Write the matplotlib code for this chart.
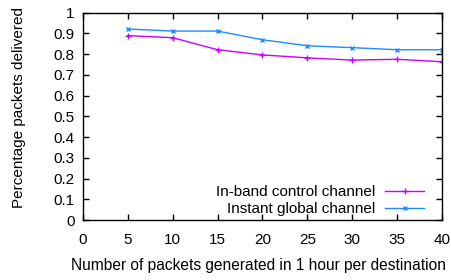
import matplotlib
matplotlib.use('Agg')
import matplotlib.pyplot as plt

# Datos
packets = [5, 10, 15, 20, 25, 30, 35, 40]
in_band = [0.889, 0.879, 0.821, 0.796, 0.782, 0.771, 0.775, 0.763]
instant = [0.921, 0.911, 0.911, 0.869, 0.840, 0.831, 0.821, 0.821]
x_ticks = [0, 5, 10, 15, 20, 25, 30, 35, 40]
y_ticks = [0, 0.1, 0.2, 0.3, 0.4, 0.5, 0.6, 0.7, 0.8, 0.9, 1]
y_labels = ['0', '0.1', '0.2', '0.3', '0.4', '0.5', '0.6', '0.7', '0.8', '0.9', '1']

plt.rcParams['font.family'] = ['Liberation Sans', 'DejaVu Sans']
plt.rcParams['font.size'] = 11

fig = plt.figure(figsize=(4.51, 2.80), dpi=100)
ax = fig.add_axes([0.184, 0.214, 0.796, 0.741])

ax.plot(packets, in_band, color='#cc00ff', marker='+', markersize=4, linewidth=1,
        label='In-band control channel')
ax.plot(packets, instant, color='#1e8cff', marker='x', markersize=3, linewidth=1,
        label='Instant global channel')

ax.set_xlim(0, 40)
ax.set_ylim(0, 1)
ax.set_xticks(x_ticks)
ax.set_yticks(y_ticks)
ax.set_yticklabels(y_labels)
ax.tick_params(direction='in', top=True, right=True, length=4, width=1)
ax.tick_params(axis='x', pad=9)
ax.tick_params(axis='y', pad=6)
for s in ax.spines.values():
    s.set_linewidth(1)

xl = ax.set_xlabel('Number of packets generated in 1 hour per destination', fontsize=11.2)
xl.set_ha('left')
xl.set_va('center')
ax.xaxis.set_label_coords(-0.033, -0.217)
ax.set_ylabel('Percentage packets delivered')
ax.yaxis.set_label_coords(-0.159, 0.543)

leg = ax.legend(loc='lower right', frameon=False, markerfirst=False,
                handlelength=2.55, handletextpad=0.65, borderpad=0,
                borderaxespad=0, labelspacing=0.2,
                bbox_to_anchor=(0.95, 0.02))
for t in leg.get_texts():
    t.set_ha('right')

fig.savefig('out.png', dpi=100)
